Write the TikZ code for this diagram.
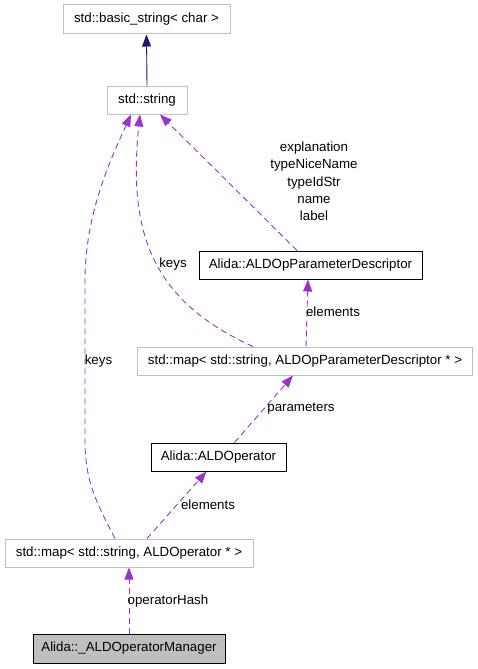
\documentclass[tikz,border=0pt]{standalone}
\usepackage{fontspec}
\setmainfont{Liberation Sans}
\usetikzlibrary{arrows.meta,calc}
\definecolor{dep}{HTML}{9A32CD}
\definecolor{inh}{HTML}{191970}
\definecolor{gbox}{HTML}{BFBFBF}
\tikzset{
  cls/.style={draw=black,line width=1pt,minimum height=28pt,inner sep=0pt,font=\fontsize{13.3}{16}\selectfont},
  stdcls/.style={cls,draw=gbox},
  curcls/.style={cls,fill=gbox},
  depedge/.style={draw=dep,line width=0.9pt,dash pattern=on 6pt off 4pt,-{Triangle[length=12pt,width=9pt,fill=dep]}},
  inhedge/.style={draw=inh,line width=0.9pt,-{Triangle[length=12pt,width=9pt,fill=inh]}},
  lbl/.style={font=\fontsize{13.3}{17.3}\selectfont,inner sep=0pt,align=center}
}
\begin{document}
\begin{tikzpicture}[x=1pt,y=-1pt]
\useasboundingbox (0,0) rectangle (477,669);
\node[stdcls,minimum width=167pt,minimum height=29pt] (bs) at (146.5,19.5) {std::basic\_string< char >};
\node[stdcls,minimum width=80pt] (str) at (147,100) {std::string};
\node[cls,minimum width=223pt] (pd) at (310.5,265) {Alida::ALDOpParameterDescriptor};
\node[stdcls,minimum width=335pt] (mpd) at (305,361) {std::map< std::string, ALDOpParameterDescriptor * >};
\node[cls,minimum width=135pt] (op) at (218.5,457) {Alida::ALDOperator};
\node[stdcls,minimum width=248pt] (mop) at (129,553) {std::map< std::string, ALDOperator * >};
\node[curcls,minimum width=192pt,minimum height=29pt] (mgr) at (129,648.5) {Alida::\_ALDOperatorManager};

\draw[inhedge] (str.north) -- (bs.south);
\draw[depedge] (mgr.north) -- (mop.south);
\draw[depedge] ($(mop.north)+(18,0)$) -- ($(op.south)+(-12,0)$);
\draw[depedge] ($(op.north)+(16,0)$) -- ($(mpd.south)+(-12,0)$);
\draw[depedge] ($(mpd.north)+(1,0)$) -- ($(pd.south)+(-2.5,0)$);
\draw[depedge] ($(pd.north)+(-13.5,0)$) -- ($(str.south)+(13,0)$);
\draw[depedge] ($(mpd.north)+(-52,0)$) .. controls (150,300) and (128,230) .. ($(str.south)+(-7,0)$);
\draw[depedge] ($(mop.north)+(-14,0)$) .. controls (95,500) and (85,480) .. (85,440) -- (85,280) .. controls (85,210) and (115,150) .. ($(str.south)+(-16,0)$);

\node[lbl] (l1) at (168,600.7) {operatorHash};
\node[lbl] (l2) at (208,505) {elements};
\node[lbl] (l3) at (301,409) {parameters};
\node[lbl] (l4) at (333,312) {elements};
\node[lbl] (l5) at (173,264) {keys};
\node[lbl] (l6) at (98.5,361) {keys};
\node[lbl] (l7) at (314,181.5) {explanation\\typeNiceName\\typeIdStr\\name\\label};
\end{tikzpicture}
\end{document}
